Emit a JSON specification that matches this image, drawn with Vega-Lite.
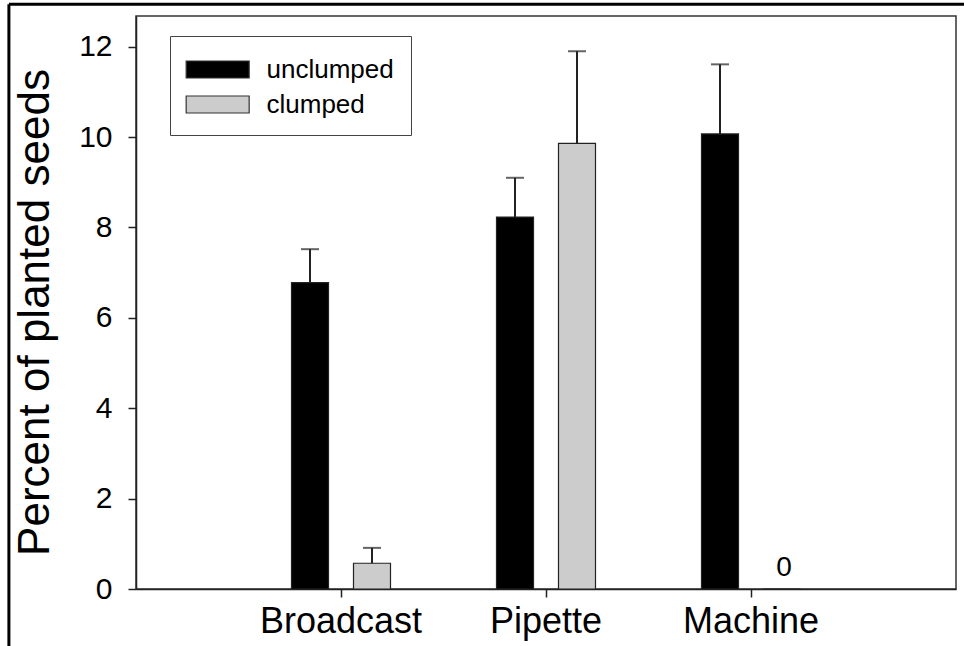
{
  "$schema": "https://vega.github.io/schema/vega-lite/v6.json",
  "width": 820,
  "height": 573,
  "autosize": {"type": "none"},
  "padding": {"left": 136, "top": 16, "right": 8, "bottom": 57},
  "background": "white",
  "config": {
    "font": "Liberation Sans",
    "view": {"stroke": "#333333", "strokeWidth": 1.5},
    "axis": {"grid": false}
  },
  "datasets": {
    "seeds": [
      {"method": "Broadcast", "group": "unclumped", "value": 6.78, "upper": 7.52},
      {"method": "Broadcast", "group": "clumped", "value": 0.57, "upper": 0.91},
      {"method": "Pipette", "group": "unclumped", "value": 8.23, "upper": 9.10},
      {"method": "Pipette", "group": "clumped", "value": 9.86, "upper": 11.90},
      {"method": "Machine", "group": "unclumped", "value": 10.07, "upper": 11.61},
      {"method": "Machine", "group": "clumped", "value": 0, "upper": null}
    ],
    "frame": [{"x0": -0.62, "x1": 4.2, "ytop": 12.94, "ybot": -1.6}]
  },
  "layer": [
    {
      "data": {"name": "seeds"},
      "layer": [
        {
          "mark": {"type": "bar", "strokeWidth": 1.2},
          "encoding": {
            "x": {
              "field": "method", "type": "nominal", "sort": ["Broadcast", "Pipette", "Machine"],
              "scale": {"paddingInner": 0, "paddingOuter": 0.5},
              "axis": {
                "title": null, "labelAngle": 0, "labelFontSize": 36, "labelColor": "black",
                "labelPadding": 7, "tickSize": 8, "tickColor": "#222", "tickWidth": 1.5,
                "domainColor": "#222", "domainWidth": 1.5
              }
            },
            "xOffset": {
              "field": "group", "type": "nominal", "sort": ["unclumped", "clumped"],
              "scale": {"paddingInner": 0.403, "paddingOuter": 0.855}
            },
            "y": {
              "field": "value", "type": "quantitative",
              "scale": {"domain": [0, 12.68], "nice": false},
              "axis": {
                "title": "Percent of planted seeds", "titleFontSize": 44, "titleFontWeight": "normal",
                "titleColor": "black", "titlePadding": 21, "titleY": 296,
                "values": [0, 2, 4, 6, 8, 10, 12], "labelFontSize": 30, "labelColor": "black",
                "labelPadding": 16, "tickSize": 8, "tickColor": "#222", "tickWidth": 1.5,
                "domainColor": "#222", "domainWidth": 1.5
              }
            },
            "color": {
              "field": "group", "type": "nominal",
              "scale": {"domain": ["unclumped", "clumped"], "range": ["#000000", "#cccccc"]},
              "legend": {
                "title": null, "orient": "none", "legendX": 34, "legendY": 20,
                "strokeColor": "#444", "fillColor": "white", "padding": 17,
                "labelFontSize": 26, "labelColor": "black", "labelOffset": 46.5,
                "rowPadding": 5,
                "symbolType": "M-1.1,-0.54H2.9V0.54H-1.1Z", "symbolSize": 992,
                "symbolStrokeColor": "#333", "symbolStrokeWidth": 1.2
              }
            },
            "stroke": {"value": "#222222"}
          }
        },
        {
          "mark": {"type": "rule", "color": "#222222", "strokeWidth": 2},
          "encoding": {
            "x": {"field": "method", "type": "nominal", "sort": ["Broadcast", "Pipette", "Machine"]},
            "xOffset": {"field": "group", "type": "nominal", "sort": ["unclumped", "clumped"]},
            "y": {"field": "value", "type": "quantitative"},
            "y2": {"field": "upper"}
          }
        },
        {
          "transform": [{"filter": "datum.upper != null"}],
          "mark": {"type": "tick", "orient": "horizontal", "color": "#222222", "size": 18, "thickness": 2},
          "encoding": {
            "x": {"field": "method", "type": "nominal", "sort": ["Broadcast", "Pipette", "Machine"]},
            "xOffset": {"field": "group", "type": "nominal", "sort": ["unclumped", "clumped"]},
            "y": {"field": "upper", "type": "quantitative"}
          }
        },
        {
          "transform": [{"filter": "datum.value == 0"}],
          "mark": {"type": "text", "fontSize": 28, "baseline": "bottom", "dy": -7, "dx": 2, "color": "black"},
          "encoding": {
            "x": {"field": "method", "type": "nominal", "sort": ["Broadcast", "Pipette", "Machine"]},
            "xOffset": {"field": "group", "type": "nominal", "sort": ["unclumped", "clumped"]},
            "y": {"field": "value", "type": "quantitative"},
            "text": {"field": "value", "type": "quantitative"}
          }
        }
      ]
    },
    {
      "data": {"name": "frame"},
      "layer": [
        {
          "mark": {"type": "rule", "color": "black", "strokeWidth": 3},
          "encoding": {
            "x": {"field": "x0", "type": "quantitative", "scale": {"domain": [0, 4], "nice": false, "zero": false}, "axis": null},
            "x2": {"field": "x1"},
            "y": {"field": "ytop", "type": "quantitative"}
          }
        },
        {
          "mark": {"type": "rule", "color": "black", "strokeWidth": 3},
          "encoding": {
            "x": {"field": "x0", "type": "quantitative", "scale": {"domain": [0, 4], "nice": false, "zero": false}, "axis": null},
            "y": {"field": "ytop", "type": "quantitative"},
            "y2": {"field": "ybot"}
          }
        }
      ]
    }
  ],
  "resolve": {"scale": {"x": "independent"}, "axis": {"x": "independent"}}
}
